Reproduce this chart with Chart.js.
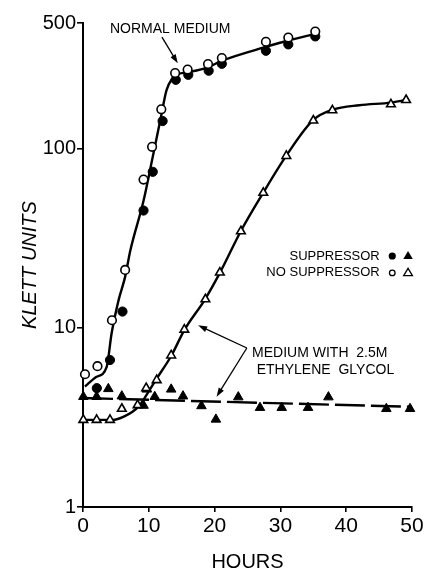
<!DOCTYPE html>
<html>
<head>
<meta charset="utf-8">
<script src="https://cdn.jsdelivr.net/npm/chart.js@4.4.0/dist/chart.umd.min.js"></script>
<style>
  body { margin: 0; background: #fff; }
</style>
</head>
<body>
<canvas id="chart" width="427" height="572"></canvas>
<script>
// normal medium, circles
const normalNoSupHours = [0.3, 2.2, 4.4, 6.4, 9.2, 10.5, 11.9, 14.0, 15.9, 19.0, 21.1, 27.8, 31.2, 35.3];
const normalNoSupKlett = [5.5, 6.1, 11, 21, 67, 102, 165, 263, 275, 295, 319, 393, 415, 448];
const normalSupHours = [2.1, 4.1, 6.0, 9.2, 10.6, 12.1, 14.1, 16.0, 19.1, 21.1, 27.8, 31.2, 35.3];
const normalSupKlett = [4.6, 6.6, 12.3, 45, 74, 142, 241, 257, 271, 296, 350, 380, 421];

// 2.5M ethylene glycol, triangles
const glycolNoSupHours = [0.05, 2.07, 4.1, 5.9, 8.3, 9.6, 11.2, 13.4, 15.4, 18.6, 20.8, 24.0, 27.4, 30.9, 35.0, 37.9, 46.8, 49.1];
const glycolNoSupKlett = [3.06, 3.06, 3.06, 3.53, 3.7, 4.6, 5.1, 7.0, 9.75, 14.4, 20.3, 34.5, 56.5, 90.7, 143, 163, 176, 186];
const glycolSupHours = [0.05, 2.07, 3.85, 5.9, 9.2, 9.7, 10.9, 13.4, 15.2, 18.0, 20.2, 23.6, 26.9, 30.2, 34.2, 37.3, 46.1, 49.7];
const glycolSupKlett = [4.12, 4.12, 4.56, 4.15, 3.68, 4.53, 4.12, 4.53, 4.15, 3.66, 3.08, 4.1, 3.58, 3.58, 3.58, 4.1, 3.53, 3.53];

// hand drawn curves
const normalFitHours = [0.3, 2, 3.6, 4.35, 5.4, 6.4, 7.2, 9.2, 10.5, 11.9, 12.7, 14.2, 16, 19, 21, 28, 31, 35.3];
const normalFitKlett = [4.7, 5.3, 6.05, 9.3, 14.2, 19.2, 27, 51, 86, 153, 211, 256, 266, 283, 307, 370, 398, 435];
const glycolNoSupFitHours = [0, 4.5, 6.2, 8.4, 9.8, 11.2, 13.4, 15.4, 18.5, 20.8, 24.0, 27.4, 30.9, 35, 37.9, 42, 46.8, 49.1];
const glycolNoSupFitKlett = [3.06, 3.06, 3.19, 3.62, 4.3, 5.2, 6.95, 9.7, 14.3, 20.2, 34.6, 56.6, 91, 144, 164, 174, 180, 186];
const glycolSupFitHours = [0, 50];
const glycolSupFitKlett = [4.05, 3.62];

const xTicks = [0, 10, 20, 30, 40, 50];
const yTicks = [1, 10, 100, 500];

const pts = (xs, ys) => xs.map((x, i) => ({ x: x, y: ys[i] }));

const FONT = '"Liberation Sans", Arial, sans-serif';

const notes = {
  id: 'notes',
  afterDraw(chart) {
    const ctx = chart.ctx;
    const sx = chart.scales.x, sy = chart.scales.y;
    const px = (t, v) => [sx.getPixelForValue(t), sy.getPixelForValue(v)];

    const arrow = (from, to) => {
      const [x1, y1] = px(from[0], from[1]);
      const [x2, y2] = px(to[0], to[1]);
      const a = Math.atan2(y2 - y1, x2 - x1);
      ctx.beginPath();
      ctx.moveTo(x1, y1);
      ctx.lineTo(x2 - 6 * Math.cos(a), y2 - 6 * Math.sin(a));
      ctx.stroke();
      ctx.beginPath();
      ctx.moveTo(x2, y2);
      ctx.lineTo(x2 - 9 * Math.cos(a) + 3 * Math.sin(a), y2 - 9 * Math.sin(a) - 3 * Math.cos(a));
      ctx.lineTo(x2 - 9 * Math.cos(a) - 3 * Math.sin(a), y2 - 9 * Math.sin(a) + 3 * Math.cos(a));
      ctx.closePath();
      ctx.fill();
    };

    ctx.save();
    ctx.fillStyle = '#000';
    ctx.strokeStyle = '#000';
    ctx.lineWidth = 1.3;
    ctx.textBaseline = 'middle';

    ctx.font = '14px ' + FONT;
    ctx.textAlign = 'left';
    let p = px(4.1, 465);
    ctx.fillText('NORMAL MEDIUM', p[0], p[1]);
    arrow([12.0, 417], [14.4, 298]);

    p = px(25.7, 7.22);
    ctx.fillText('MEDIUM WITH  2.5M', p[0], p[1]);
    p = px(26.4, 5.8);
    ctx.fillText('ETHYLENE  GLYCOL', p[0], p[1]);
    arrow([24.9, 7.7], [17.5, 10.3]);
    arrow([24.9, 7.7], [20.3, 4.12]);

    ctx.font = '13px ' + FONT;
    ctx.textAlign = 'right';
    p = px(45.1, 25.1);
    ctx.fillText('SUPPRESSOR', p[0], p[1]);
    p = px(45.1, 20.2);
    ctx.fillText('NO SUPPRESSOR', p[0], p[1]);

    // legend marks
    const tri = (x, y, r, fill) => {
      ctx.beginPath();
      ctx.moveTo(x, y - r);
      ctx.lineTo(x + r * 0.95, y + r * 0.6);
      ctx.lineTo(x - r * 0.95, y + r * 0.6);
      ctx.closePath();
      if (fill) ctx.fill(); else ctx.stroke();
    };
    p = px(47.0, 25.1);
    ctx.beginPath(); ctx.arc(p[0], p[1], 3.6, 0, Math.PI * 2); ctx.fill();
    p = px(49.4, 25.1);
    tri(p[0], p[1], 5, true);
    p = px(47.0, 20.2);
    ctx.beginPath(); ctx.arc(p[0], p[1], 2.8, 0, Math.PI * 2); ctx.stroke();
    p = px(49.4, 20.2);
    tri(p[0], p[1], 4.6, false);
    ctx.restore();
  }
};

const data = {
  datasets: [
    {
      label: 'Normal, no suppressor',
      data: pts(normalNoSupHours, normalNoSupKlett),
      pointStyle: 'circle', pointRadius: 4.3,
      backgroundColor: '#fff', borderColor: '#000', borderWidth: 1.6
    },
    {
      label: 'Normal, suppressor',
      data: pts(normalSupHours, normalSupKlett),
      pointStyle: 'circle', pointRadius: 4.6,
      backgroundColor: '#000', borderColor: '#000', borderWidth: 1
    },
    {
      label: 'Glycol, no suppressor',
      data: pts(glycolNoSupHours, glycolNoSupKlett),
      pointStyle: 'triangle', pointRadius: 5,
      backgroundColor: '#fff', borderColor: '#000', borderWidth: 1.6
    },
    {
      label: 'Glycol, suppressor',
      data: pts(glycolSupHours, glycolSupKlett),
      pointStyle: 'triangle', pointRadius: 5.5,
      backgroundColor: '#000', borderColor: '#000', borderWidth: 1
    },
    {
      label: 'Glycol flat',
      data: pts(glycolSupFitHours, glycolSupFitKlett),
      showLine: true, pointRadius: 0, borderColor: '#000', borderWidth: 2.4,
      borderDash: [30, 6]
    },
    {
      label: 'Normal curve',
      data: pts(normalFitHours, normalFitKlett),
      showLine: true, pointRadius: 0, borderColor: '#000', borderWidth: 2.4,
      cubicInterpolationMode: 'monotone'
    },
    {
      label: 'Glycol curve',
      data: pts(glycolNoSupFitHours, glycolNoSupFitKlett),
      showLine: true, pointRadius: 0, borderColor: '#000', borderWidth: 2.4,
      cubicInterpolationMode: 'monotone'
    }
  ]
};

const config = {
  type: 'scatter',
  data: data,
  plugins: [notes],
  options: {
    responsive: false,
    animation: false,
    devicePixelRatio: 1,
    clip: false,
    layout: { padding: { top: 23, right: 15, bottom: 0, left: 0 } },
    plugins: { legend: { display: false }, tooltip: { enabled: false } },
    scales: {
      x: {
        type: 'linear',
        min: 0, max: 50,
        afterBuildTicks: scale => { scale.ticks = xTicks.map(v => ({ value: v })); },
        afterFit: scale => { scale.height = 65; },
        ticks: { color: '#000', font: { family: FONT, size: 21 }, padding: 2, maxRotation: 0 },
        grid: { drawOnChartArea: false, color: '#000', tickLength: 5, lineWidth: 1.6 },
        border: { color: '#000', width: 2 },
        title: {
          display: true, text: 'HOURS', color: '#000',
          font: { family: FONT, size: 20, lineHeight: 1 }, padding: 0
        }
      },
      y: {
        type: 'logarithmic',
        min: 1, max: 500,
        afterBuildTicks: scale => { scale.ticks = yTicks.map(v => ({ value: v })); },
        afterFit: scale => { scale.width = 83; },
        ticks: { color: '#000', font: { family: FONT, size: 20 }, padding: 1, callback: v => String(v) },
        grid: { drawOnChartArea: false, color: '#000', tickLength: 6, lineWidth: 1.6 },
        border: { color: '#000', width: 2 },
        title: {
          display: true, text: 'KLETT UNITS', color: '#000',
          font: { family: FONT, size: 20, style: 'italic', lineHeight: 1.2 }, padding: { top: 18 }
        }
      }
    }
  }
};

const myChart = new Chart(document.getElementById('chart'), config);
</script>
</body>
</html>
